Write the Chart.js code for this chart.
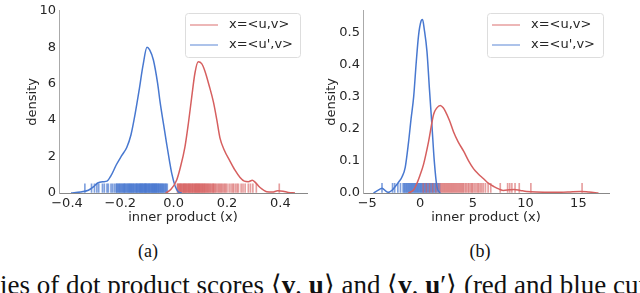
<!DOCTYPE html>
<html>
<head>
<meta charset="utf-8">
<script src="https://cdn.jsdelivr.net/npm/chart.js@4/dist/chart.umd.min.js"></script>
<style>
  body { margin: 0; width: 640px; height: 293px; overflow: hidden; background: #fff; position: relative; }
  .panel { position: absolute; top: 0; width: 320px; height: 226px; }
  .cap { position: absolute; top: 240px; font-family: "Liberation Serif", serif; font-size: 18px; line-height: 22px; color: #111; transform: translateX(-50%); }
  #caption { position: absolute; left: 0; top: 271px; white-space: nowrap; font-family: "Liberation Serif", serif; font-size: 27px; line-height: 28px; color: #111; }
</style>
</head>
<body>
<div class="panel" style="left:0"><canvas id="chartA" width="320" height="226"></canvas></div>
<div class="panel" style="left:320px"><canvas id="chartB" width="320" height="226"></canvas></div>
<div class="cap" style="left:148px">(a)</div>
<div class="cap" style="left:480px">(b)</div>
<div id="caption">ies of dot product scores ⟨<b>v</b>, <b>u</b>⟩ and ⟨<b>v</b>, <b>u</b>′⟩ (red and blue curves)</div>
<script>
// (a) kde curves
const aRedX = [-0.03, -0.01, 0.011, 0.025, 0.042, 0.055, 0.068, 0.08, 0.092, 0.105, 0.117, 0.133, 0.149, 0.162, 0.174, 0.19, 0.211, 0.23, 0.249, 0.265, 0.28, 0.295, 0.305, 0.324, 0.349, 0.37, 0.39, 0.41, 0.43, 0.455];
const aRedY = [0, 0.2, 0.7, 1.4, 2.5, 3.8, 5.3, 6.6, 7.2, 7.1, 6.7, 5.9, 5.0, 4.0, 3.0, 2.35, 1.75, 1.25, 0.85, 0.65, 0.62, 0.7, 0.6, 0.3, 0.07, 0.05, 0.12, 0.1, 0.03, 0];
const aBlueX = [-0.385, -0.35, -0.32, -0.30, -0.285, -0.265, -0.25, -0.235, -0.215, -0.195, -0.176, -0.16, -0.145, -0.13, -0.115, -0.10, -0.09, -0.076, -0.06, -0.051, -0.035, -0.026, -0.015, -0.007, 0.005, 0.017, 0.03];
const aBlueY = [0, 0.05, 0.15, 0.35, 0.55, 0.62, 0.65, 0.95, 1.55, 2.05, 2.5, 3.2, 4.3, 5.6, 7.0, 8.0, 7.85, 7.3, 6.0, 5.0, 3.5, 2.67, 1.7, 1.06, 0.4, 0.07, 0];
// (a) rug samples
const aRedRug = [0.014, 0.016, 0.018, 0.021, 0.023, 0.025, 0.027, 0.029, 0.031, 0.034, 0.036, 0.038, 0.04, 0.042, 0.044, 0.046, 0.048, 0.05, 0.053, 0.055, 0.057, 0.059, 0.061, 0.063, 0.065, 0.068, 0.07, 0.072, 0.074, 0.077, 0.079, 0.081, 0.083, 0.085, 0.087, 0.089, 0.091, 0.093, 0.095, 0.097, 0.099, 0.101, 0.104, 0.106, 0.108, 0.11, 0.113, 0.115, 0.117, 0.12, 0.122, 0.125, 0.128, 0.13, 0.133, 0.136, 0.139, 0.142, 0.146, 0.148, 0.15, 0.154, 0.157, 0.161, 0.166, 0.17, 0.174, 0.178, 0.182, 0.187, 0.191, 0.195, 0.2, 0.208, 0.215, 0.221, 0.225, 0.232, 0.238, 0.243, 0.253, 0.26, 0.268, 0.28, 0.288, 0.297, 0.31, 0.396];
const aBlueRug = [-0.333, -0.308, -0.297, -0.288, -0.281, -0.267, -0.26, -0.25, -0.245, -0.235, -0.229, -0.222, -0.216, -0.213, -0.211, -0.207, -0.205, -0.202, -0.199, -0.196, -0.193, -0.19, -0.187, -0.185, -0.183, -0.18, -0.177, -0.174, -0.171, -0.169, -0.166, -0.164, -0.162, -0.159, -0.157, -0.154, -0.152, -0.149, -0.147, -0.143, -0.141, -0.139, -0.137, -0.134, -0.132, -0.129, -0.127, -0.125, -0.123, -0.121, -0.119, -0.117, -0.115, -0.113, -0.11, -0.108, -0.107, -0.105, -0.103, -0.101, -0.099, -0.096, -0.094, -0.092, -0.09, -0.088, -0.085, -0.083, -0.081, -0.079, -0.077, -0.075, -0.073, -0.071, -0.069, -0.067, -0.065, -0.063, -0.061, -0.058, -0.056, -0.054, -0.051, -0.048, -0.046, -0.043, -0.04, -0.038, -0.034, -0.031, -0.028, -0.024];
const aXTicks = [-0.4, -0.2, 0.0, 0.2, 0.4];
const aYTicks = [0, 2, 4, 6, 8, 10];

// (b) kde curves
const bRedX = [-1.1, -0.6, -0.29, 0.0, 0.34, 0.81, 1.29, 1.6, 1.92, 2.2, 2.39, 2.8, 3.18, 3.6, 4.13, 4.6, 5.08, 5.5, 6.0, 6.5, 7.0, 7.5, 7.9, 8.5, 8.9, 9.5, 10.1, 11, 12.7, 14, 15.2, 16, 16.9];
const bRedY = [0, 0.01, 0.03, 0.055, 0.09, 0.16, 0.245, 0.265, 0.272, 0.265, 0.255, 0.225, 0.19, 0.16, 0.13, 0.1, 0.075, 0.06, 0.045, 0.03, 0.02, 0.012, 0.008, 0.01, 0.011, 0.008, 0.005, 0.003, 0.002, 0.003, 0.005, 0.003, 0];
const bBlueX = [-4.4, -4.0, -3.6, -3.2, -2.98, -2.6, -2.35, -2.0, -1.71, -1.4, -1.08, -0.85, -0.6, -0.35, -0.14, 0.1, 0.24, 0.4, 0.66, 0.9, 1.13, 1.35, 1.6, 1.9];
const bBlueY = [0, 0.008, 0.015, 0.005, 0.002, 0.01, 0.02, 0.035, 0.05, 0.08, 0.16, 0.23, 0.30, 0.41, 0.49, 0.535, 0.54, 0.51, 0.44, 0.32, 0.21, 0.1, 0.02, 0];
// (b) rug samples
const bRedRug = [0.3, 0.6, 0.9, 1.2, 1.5, 1.75, 1.95, 2.05, 2.15, 2.25, 2.35, 2.45, 2.55, 2.65, 2.75, 2.85, 2.95, 3.05, 3.15, 3.25, 3.35, 3.45, 3.55, 3.65, 3.75, 3.85, 3.95, 4.05, 4.15, 4.3, 4.4, 4.55, 4.65, 4.8, 4.9, 5.0, 5.15, 5.3, 5.45, 5.55, 5.7, 5.85, 6.0, 6.2, 6.45, 6.7, 7.6, 8.3, 8.5, 8.7, 9.0, 9.4, 10.5, 15.35];
const bBlueRug = [-3.6, -2.6, -2.4, -2.1, -1.85, -1.6, -1.5, -1.42, -1.33, -1.25, -1.16, -1.08, -1.0, -0.92, -0.84, -0.76, -0.68, -0.6, -0.52, -0.45, -0.37, -0.29, -0.21, -0.14, -0.06, 0.02, 0.09, 0.17, 0.25, 0.32, 0.4, 0.48, 0.56, 0.64, 0.72, 0.8, 0.88, 0.97, 1.06, 1.15, 1.24, 1.33, 1.43, 1.53, 1.64, 1.76, 1.88];
const bXTicks = [-5, 0, 5, 10, 15];
const bYTicks = [0.0, 0.1, 0.2, 0.3, 0.4, 0.5];

const seriesNames = ["x=<u,v>", "x=<u',v>"];
const RED = "#d65f5f", BLUE = "#4878d0";
const FONT = "'DejaVu Sans', sans-serif";
const INK = "#262626";

function pts(xs, ys) {
  return xs.map((x, i) => ({ x: x, y: ys[i] }));
}
function rug(xs, h) {
  return xs.map(x => ({ x: x, y: h }));
}
function fmt(v) {
  return v.charAt(0) === "-" ? "\u2212" + v.slice(1) : v;
}

// draws the framed legend inside the plot, like matplotlib
const boxLegend = {
  id: "boxLegend",
  afterDatasetsDraw(chart, args, opts) {
    const ctx = chart.ctx;
    const { x, y, w, h } = opts;
    ctx.save();
    ctx.beginPath();
    ctx.roundRect(x + 0.5, y + 0.5, w, h, 3);
    ctx.fillStyle = "rgba(255,255,255,0.85)";
    ctx.fill();
    ctx.strokeStyle = "#dddddd";
    ctx.lineWidth = 1;
    ctx.stroke();
    const items = [[seriesNames[0], "rgba(214,95,95,0.6)"], [seriesNames[1], "rgba(72,120,208,0.6)"]];
    items.forEach((it, i) => {
      const ry = y + 12 + i * 20;
      ctx.beginPath();
      ctx.moveTo(x + 5, ry);
      ctx.lineTo(x + 33, ry);
      ctx.strokeStyle = it[1];
      ctx.lineWidth = 1.5;
      ctx.stroke();
      ctx.fillStyle = INK;
      ctx.font = "13px " + FONT;
      ctx.textBaseline = "middle";
      ctx.fillText(it[0], x + 44, ry);
    });
    ctx.restore();
  }
};

function makeChart(id, cfg) {
  const tickFont = { family: FONT, size: 13 };
  new Chart(document.getElementById(id), {
    type: "line",
    data: {
      datasets: [
        { type: "bar", data: rug(cfg.redRug, cfg.rugH), backgroundColor: "rgba(214,95,95,0.6)", barThickness: 1, grouped: false, order: 3 },
        { type: "bar", data: rug(cfg.blueRug, cfg.rugH), backgroundColor: "rgba(72,120,208,0.7)", barThickness: 1, grouped: false, order: 3 },
        { label: seriesNames[0], data: pts(cfg.redX, cfg.redY), borderColor: RED, borderWidth: 1.5, pointRadius: 0, cubicInterpolationMode: "monotone", order: 1 },
        { label: seriesNames[1], data: pts(cfg.blueX, cfg.blueY), borderColor: BLUE, borderWidth: 1.5, pointRadius: 0, cubicInterpolationMode: "monotone", order: 1 }
      ]
    },
    options: {
      responsive: false,
      animation: false,
      events: [],
      layout: { padding: { top: 7, right: cfg.padRight, left: 0, bottom: 0 } },
      plugins: { legend: { display: false }, tooltip: { enabled: false }, boxLegend: cfg.legend },
      scales: {
        x: {
          type: "linear",
          offset: false,
          min: cfg.xMin,
          max: cfg.xMax,
          afterBuildTicks: s => { s.ticks = cfg.xTicks.map(v => ({ value: v })); },
          afterFit: s => { s.height = 33; },
          ticks: { font: tickFont, color: INK, padding: 3, maxRotation: 0, callback: v => fmt(cfg.xFmt(v)) },
          grid: { display: true, drawOnChartArea: false, drawTicks: false, color: "transparent" },
          border: { display: true, color: "#888", width: 1 },
          title: { display: true, text: "inner product (x)", font: tickFont, color: INK, padding: { top: 0, bottom: 1 } }
        },
        y: {
          min: 0,
          max: cfg.yMax,
          afterBuildTicks: s => { s.ticks = cfg.yTicks.map(v => ({ value: v })); },
          afterFit: s => { s.width = cfg.yWidth; },
          ticks: { font: tickFont, color: INK, padding: 3, callback: v => cfg.yFmt(v) },
          grid: { display: true, drawOnChartArea: false, drawTicks: false, color: "transparent" },
          border: { display: true, color: "#aaa", width: 1 },
          title: { display: true, text: "density", font: tickFont, color: INK, padding: { top: cfg.titlePad, bottom: 0 } }
        }
      }
    },
    plugins: [boxLegend]
  });
}

makeChart("chartA", {
  redX: aRedX, redY: aRedY, blueX: aBlueX, blueY: aBlueY,
  redRug: aRedRug, blueRug: aBlueRug, rugH: 0.5,
  xTicks: aXTicks, yTicks: aYTicks,
  xMin: -0.43, xMax: 0.50, yMax: 10,
  xFmt: v => v.toFixed(1), yFmt: v => String(v),
  yWidth: 59, padRight: 13, titlePad: 25,
  legend: { x: 185, y: 13, w: 115, h: 44 }
});

makeChart("chartB", {
  redX: bRedX, redY: bRedY, blueX: bBlueX, blueY: bBlueY,
  redRug: bRedRug, blueRug: bBlueRug, rugH: 0.03,
  xTicks: bXTicks, yTicks: bYTicks,
  xMin: -5.4, xMax: 17.9, yMax: 0.567,
  xFmt: v => String(v), yFmt: v => v.toFixed(1),
  yWidth: 43, padRight: 31, titlePad: 4,
  legend: { x: 167, y: 13, w: 116, h: 44 }
});
</script>
</body>
</html>
